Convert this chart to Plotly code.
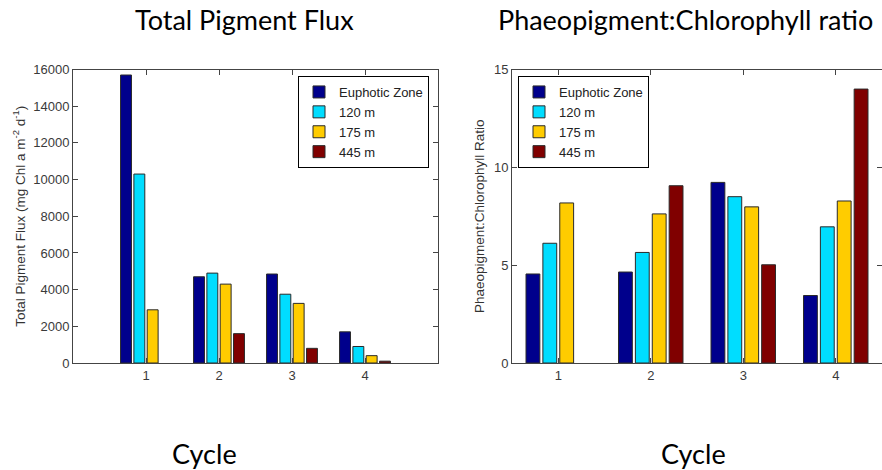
import plotly.graph_objects as go

cycles = [1, 2, 3, 4]
series_names = ["Euphotic Zone", "120 m", "175 m", "445 m"]
colors = ["#00008C", "#00DDFF", "#FFCC00", "#800000"]

flux_euphotic = [15700, 4700, 4850, 1700]
flux_120 = [10300, 4900, 3750, 900]
flux_175 = [2900, 4300, 3250, 400]
flux_445 = [None, 1600, 800, 100]

ratio_euphotic = [4.55, 4.65, 9.23, 3.45]
ratio_120 = [6.12, 5.65, 8.5, 6.96]
ratio_175 = [8.18, 7.62, 7.98, 8.28]
ratio_445 = [None, 9.06, 5.02, 14.0]

flux = [flux_euphotic, flux_120, flux_175, flux_445]
ratio = [ratio_euphotic, ratio_120, ratio_175, ratio_445]

W, H = 882, 470
fig = go.Figure()

for name, col, vals in zip(series_names, colors, flux):
    fig.add_trace(go.Bar(x=cycles, y=vals, name=name, marker_color=col,
                         marker_line_color="#2a2a2a", marker_line_width=1,
                         xaxis="x", yaxis="y", legend="legend"))
for name, col, vals in zip(series_names, colors, ratio):
    fig.add_trace(go.Bar(x=cycles, y=vals, name=name, marker_color=col,
                         marker_line_color="#2a2a2a", marker_line_width=1,
                         xaxis="x2", yaxis="y2", legend="legend2"))

ydom = [1 - 363 / H, 1 - 69.5 / H]
tickfont = dict(family="Liberation Sans, Arial", size=13, color="#3a3a3a")
axis_common = dict(showline=True, linecolor="#444444", linewidth=1, mirror="ticks",
                   ticks="inside", ticklen=5, tickcolor="#444444", showgrid=False,
                   zeroline=False, tickfont=tickfont, automargin=False)
ytitle_font = dict(family="Liberation Sans, Arial", size=13.5, color="#333")

legend_common = dict(bordercolor="#000000", borderwidth=1, bgcolor="white",
                     font=dict(family="Liberation Sans, Arial", size=13, color="#222"),
                     itemwidth=30, tracegroupgap=0, xanchor="left", yanchor="top",
                     traceorder="normal")

fig.update_layout(
    width=W, height=H,
    margin=dict(l=0, r=0, t=0, b=0, pad=0),
    paper_bgcolor="white", plot_bgcolor="white",
    barmode="group", bargap=0.27, bargroupgap=0.18,
    xaxis=dict(domain=[73 / W, 438 / W], range=[0, 5], tickvals=cycles, anchor="y", **axis_common),
    yaxis=dict(domain=ydom, range=[0, 16000], dtick=2000, tickformat="d", anchor="x",
               title=dict(text="Total Pigment Flux (mg Chl a m<sup>-2</sup> d<sup>-1</sup>)",
                          font=ytitle_font, standoff=4),
               **axis_common),
    xaxis2=dict(domain=[512 / W, 1.0], range=[0.5, 4.5], tickvals=cycles, anchor="y2", **axis_common),
    yaxis2=dict(domain=ydom, range=[0, 15], dtick=5, anchor="x2",
                title=dict(text="Phaeopigment:Chlorophyll Ratio", font=ytitle_font, standoff=6),
                **axis_common),
    legend=dict(x=298 / W, y=1 - 76 / H, **legend_common),
    legend2=dict(x=518 / W, y=1 - 76 / H, **legend_common),
)

title_font = dict(family="Lato", size=27, color="#000000")
for txt, xc, yc in [("Total Pigment Flux", 244, 20), ("Phaeopigment:Chlorophyll ratio", 685, 20),
                    ("Cycle", 204, 453), ("Cycle", 693, 453)]:
    fig.add_annotation(text=txt, x=xc / W, y=1 - yc / H, xref="paper", yref="paper",
                       xanchor="center", yanchor="middle", showarrow=False, font=title_font)

fig.write_html("out.html")
